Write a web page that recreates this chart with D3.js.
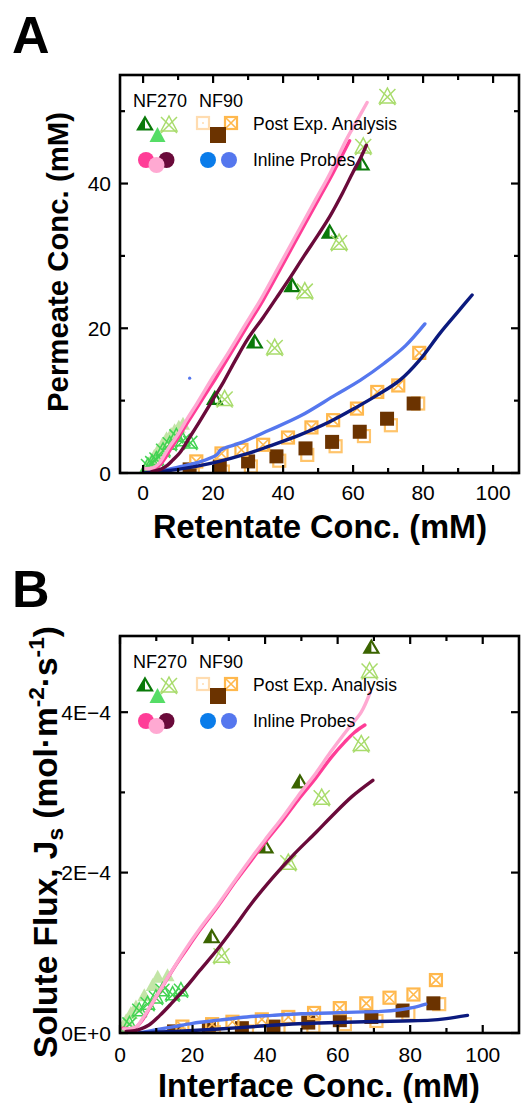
<!DOCTYPE html>
<html><head><meta charset="utf-8">
<script src="https://cdn.jsdelivr.net/npm/d3@7"></script>
<style>body{margin:0;background:#fff}svg{display:block;font-family:"Liberation Sans",Arial,sans-serif}</style>
</head><body><svg id="c" width="521" height="1103"></svg>
<script>
// ---------- shared ticks ----------
const xTicks=[0,20,40,60,80,100];
const xMinor=[10,30,50,70,90,110];
const yTicksA=[0,20,40], yMinorA=[10,30,50];
const yTicksB=[0,2e-4,4e-4], yLabelsB=["0E+0","2E\u22124","4E\u22124"], yMinorB=[1e-4,3e-4];

// ---------- Panel A: Permeate vs Retentate (mM) ----------
const aPink=[[1,0.6],[3.5,0.7],[5,1.2],[6.5,2.2],[8,3.4],[10,4.9],[13,7.2],[16,9.5],[18.5,11.4],[21,13.3],[25,16.5],[30,20.5],[34.3,23.9],[40,28.9],[45,33.3],[50,37.7],[54.2,41.4],[59,45.9]];
const aLightPink=[[0.5,0.6],[3,0.75],[4.5,1.3],[6,2.4],[7.5,3.6],[9.5,5],[12.5,7.4],[15.5,9.7],[20,13.3],[24.2,16.5],[29.2,20.5],[33.5,23.9],[39.2,28.9],[44.2,33.3],[49.2,37.7],[53.4,41.4],[58,46],[61,48.6],[64,51.2]];
const aMaroon=[[2.5,0.2],[5,0.5],[7,1.1],[8.5,1.8],[10.5,2.8],[13,4.7],[16,7],[20,10.2],[23,12.6],[26.5,15.7],[30,18.6],[34.3,21.5],[38.1,24.2],[42,27],[46,30],[50,32.9],[53.4,35.5],[57,38.7],[60,41.6],[62,43.4],[63.8,45.3]];
const aBlue=[[0,0],[5,0.3],[10,0.8],[16,1.5],[21,2.5],[22,3.1],[23,3.4],[28,4.2],[36,5.9],[45,7.9],[55,10.8],[62,12.8],[69,15.2],[75,17.6],[80.5,20.6]];
const aNavy=[[0,0],[10,0.5],[20,1.4],[30,2.7],[36,3.7],[45,5.3],[53,7],[61,9.1],[67,10.8],[73.3,12.8],[79,15.6],[84.8,19.3],[90,22.3],[94,24.6]];
const aStrayDot=[[13.3,13.1]];
const aHalfTri=[[20.5,10.3],[31.9,18.1],[42.6,25.9],[53.3,33.3],[62.4,42.7]];
const aCrossTri=[[23.3,10.3],[37.6,17.4],[46.2,25.2],[56,31.9],[62.9,45.2],[69.8,52.1]];
const aPaleTri=[[0.5,0.6],[1.5,1.2],[2.4,1.8],[3.2,2.4],[4.3,3.2],[5.5,4],[6.7,4.8],[8,5.4],[9,5.9],[10.2,6.4],[11.4,6.8]];
const aGreenCross=[[1.4,1.1],[2.6,1.5],[3.8,2],[5.7,3.2],[7.6,4.1],[9.5,5.2],[11.4,4.6],[13.5,4.3]];
const aBrownSq=[[13.3,0.5],[21.9,0.9],[30,1.6],[38.1,2.3],[46.4,3.4],[54,4.3],[61.9,5.7],[69.7,7.5],[77.3,9.6]];
const aOpenSq=[[14.2,-0.2],[22.8,0.2],[30.8,0.9],[38.9,1.7],[46.9,2.5],[55,3.7],[63.1,5.1],[70.8,6.6],[78.6,9.6]];
const aCrossSq=[[15.2,1.6],[22.4,2.7],[28.1,3.2],[34.3,3.9],[41.4,4.9],[48.1,6.3],[54.3,7.3],[61.1,8.9],[66.9,11.2],[72.9,12.1],[78.9,16.6]];

// ---------- Panel B: Solute flux vs Interface (mM) ----------
const bPink=[[0.8,0.06e-4],[4,0.06e-4],[6,0.15e-4],[9,0.38e-4],[12,0.6e-4],[15,0.82e-4],[18,1.02e-4],[22,1.28e-4],[27,1.58e-4],[32,1.9e-4],[36,2.14e-4],[40,2.38e-4],[45,2.66e-4],[49,2.9e-4],[54,3.18e-4],[58.3,3.44e-4],[62,3.63e-4],[64.7,3.75e-4],[67.5,3.84e-4]];
const bLightPink=[[1,0.05e-4],[4.5,0.08e-4],[6.5,0.2e-4],[9.5,0.42e-4],[13,0.68e-4],[18,1.04e-4],[22,1.3e-4],[27,1.6e-4],[32,1.92e-4],[36,2.17e-4],[40,2.41e-4],[45,2.7e-4],[49,2.95e-4],[54,3.24e-4],[58,3.5e-4],[63,3.8e-4],[66.5,4.0e-4],[69,4.25e-4]];
const bMaroon=[[1.7,0.02e-4],[5,0.04e-4],[8,0.1e-4],[11,0.22e-4],[14,0.36e-4],[18,0.56e-4],[22,0.78e-4],[27,1.05e-4],[32,1.35e-4],[36,1.6e-4],[42,1.93e-4],[48,2.23e-4],[54,2.5e-4],[58.3,2.7e-4],[64,2.95e-4],[69.7,3.15e-4]];
const bBlue=[[5,0],[10,0.04e-4],[15,0.08e-4],[20,0.12e-4],[27.3,0.16e-4],[35,0.2e-4],[42,0.22e-4],[50,0.24e-4],[58,0.25e-4],[65,0.26e-4],[72,0.27e-4],[77,0.29e-4],[81,0.32e-4],[84.3,0.36e-4]];
const bNavy=[[5,0],[15,0.02e-4],[27.3,0.05e-4],[40,0.09e-4],[49.2,0.115e-4],[55,0.125e-4],[67.5,0.14e-4],[78,0.15e-4],[85.7,0.16e-4],[90,0.18e-4],[95.8,0.22e-4]];
const bHalfTri=[[25.3,1.2e-4],[40.1,2.32e-4],[49.6,3.13e-4],[69.3,4.81e-4]];
const bCrossTri=[[28,0.97e-4],[46.4,2.13e-4],[55.6,2.94e-4],[66.5,3.61e-4],[68.8,4.52e-4]];
const bPaleTri=[[0.8,0.08e-4],[1.7,0.16e-4],[3,0.25e-4],[4.4,0.33e-4],[6.7,0.47e-4],[9,0.6e-4],[10.4,0.7e-4],[13.1,0.72e-4]];
const bGreenCross=[[2.6,0.12e-4],[5.3,0.29e-4],[7.6,0.37e-4],[9.9,0.45e-4],[11.7,0.54e-4],[14.5,0.49e-4],[16.8,0.54e-4]];
const bBrownSq=[[14.9,0.02e-4],[24.5,0.06e-4],[33.6,0.06e-4],[42.3,0.08e-4],[51.9,0.13e-4],[60.6,0.16e-4],[69.3,0.2e-4],[77.9,0.28e-4],[86.4,0.37e-4]];
const bOpenSq=[[16.3,-0.02e-4],[25.9,0.01e-4],[35,0.02e-4],[43.7,0.03e-4],[53.3,0.08e-4],[62,0.11e-4],[70.7,0.15e-4],[79.5,0.24e-4],[88,0.36e-4]];
const bCrossSq=[[17.2,0.08e-4],[25.4,0.11e-4],[31,0.14e-4],[39.1,0.17e-4],[46.4,0.2e-4],[53.5,0.25e-4],[60.6,0.31e-4],[67.9,0.37e-4],[74.3,0.44e-4],[80.9,0.48e-4],[87.1,0.66e-4]];

// ---------- colours ----------
const C={pink:"#ff3d97",lightPink:"#ffa9d2",maroon:"#6a0a3a",blue:"#5577ee",navy:"#0b1a7e",blueL:"#0a7cea",
  dkGreen:"#0a7a0a",dkOlive:"#3b6400",paleCross:"#a9dc6c",green:"#55dd66",paleTri:"#c2e5a6",greenCross:"#42d352",
  brown:"#6b3300",orange:"#ffb84d",orangeOpen:"#ffc46b",orangePale:"#ffdcb0"};

const svg=d3.select("#c");

function marker(g,type,x,y,opt={}){
  const s=opt.s||7;
  if(type==="halfTri"){
    const col=opt.color;
    g.append("path").attr("d",`M${x},${y-s+0.5}L${x-s},${y+s-1.5}L${x},${y+s-1.5}Z`).attr("fill",col);
    g.append("path").attr("d",`M${x},${y-s+0.5}L${x+s},${y+s-1.5}L${x-s},${y+s-1.5}Z`).attr("fill","none").attr("stroke",col).attr("stroke-width",2.2);
  } else if(type==="crossTri"){
    const col=opt.color;
    g.append("path").attr("d",`M${x},${y-s}L${x+s},${y+s-1}L${x-s},${y+s-1}Z`).attr("fill","none").attr("stroke",col).attr("stroke-width",1.5);
    g.append("path").attr("d",`M${x-s},${y-s+1}L${x+s},${y+s+1}M${x+s},${y-s+1}L${x-s},${y+s+1}`).attr("stroke",col).attr("stroke-width",1.5);
  } else if(type==="fillTri"){
    g.append("path").attr("d",`M${x},${y-s}L${x+s},${y+s-1}L${x-s},${y+s-1}Z`).attr("fill",opt.color);
  } else if(type==="sq"){
    g.append("rect").attr("x",x-s).attr("y",y-s).attr("width",2*s).attr("height",2*s).attr("fill",opt.color);
  } else if(type==="openSq"){
    g.append("rect").attr("x",x-s+1).attr("y",y-s+1).attr("width",2*s-2).attr("height",2*s-2).attr("fill","none").attr("stroke",opt.color).attr("stroke-width",2.2);
    if(opt.dot) g.append("circle").attr("cx",x).attr("cy",y).attr("r",1).attr("fill",opt.color);
  } else if(type==="crossSq"){
    g.append("rect").attr("x",x-s+1).attr("y",y-s+1).attr("width",2*s-2).attr("height",2*s-2).attr("fill","none").attr("stroke",opt.color).attr("stroke-width",2.2);
    g.append("path").attr("d",`M${x-s+2},${y-s+2}L${x+s-2},${y+s-2}M${x+s-2},${y-s+2}L${x-s+2},${y+s-2}`).attr("stroke",opt.color).attr("stroke-width",1.6);
  }
}

function fitTitle(g,text,target){
  const len=text.node().getComputedTextLength();
  g.attr("transform",g.attr("transform")+` scale(${target/len})`);
}

function panel(cfg){
  const L=120,R=519,T=cfg.top,B=cfg.bottom;
  const x=d3.scaleLinear().domain(cfg.xDomain).range([L,R]);
  const y=d3.scaleLinear().domain(cfg.yDomain).range([B,T]);
  const id="clip"+cfg.name;
  svg.append("clipPath").attr("id",id).append("rect").attr("x",L).attr("y",T).attr("width",R-L).attr("height",B-T);
  const plot=svg.append("g").attr("clip-path",`url(#${id})`);

  const pts=(arr,type,opt)=>arr.forEach(d=>marker(plot,type,x(d[0]),y(d[1]),opt));
  pts(cfg.paleTri,"fillTri",{color:C.paleTri,s:7});
  pts(cfg.greenCross,"crossTri",{color:C.greenCross,s:7});
  pts(cfg.openSq,"openSq",{color:C.orangeOpen,s:7});
  pts(cfg.brownSq,"sq",{color:C.brown,s:7});
  pts(cfg.crossSq,"crossSq",{color:C.orange,s:7});
  pts(cfg.halfTri,"halfTri",{color:cfg.halfCol,s:7});
  pts(cfg.crossTri,"crossTri",{color:C.paleCross,s:8});
  const line=d3.line().x(d=>x(d[0])).y(d=>y(d[1])).curve(d3.curveCatmullRom);
  [[cfg.blue,C.blue],[cfg.navy,C.navy],[cfg.pink,C.pink],[cfg.lightPink,C.lightPink],[cfg.maroon,C.maroon]].forEach(([d,c])=>{
    plot.append("path").datum(d).attr("d",line).attr("fill","none").attr("stroke",c).attr("stroke-width",3.4).attr("stroke-linecap","round");
  });
  (cfg.stray||[]).forEach(d=>plot.append("circle").attr("cx",x(d[0])).attr("cy",y(d[1])).attr("r",1.6).attr("fill",C.blue));

  const ax=svg.append("g");
  ax.append("rect").attr("x",L).attr("y",T).attr("width",R-L).attr("height",B-T).attr("fill","none").attr("stroke","#000").attr("stroke-width",2.6);
  const tk=(x1,y1,x2,y2)=>ax.append("line").attr("x1",x1).attr("y1",y1).attr("x2",x2).attr("y2",y2).attr("stroke","#000").attr("stroke-width",2.2);
  xTicks.forEach(v=>{const p=x(v);tk(p,B,p,B-8);tk(p,T,p,T+8);
    ax.append("text").attr("x",p).attr("y",cfg.xLabY).attr("text-anchor","middle").attr("font-size",21).text(v);});
  xMinor.filter(v=>x(v)<R-2).forEach(v=>{const p=x(v);tk(p,B,p,B-5);tk(p,T,p,T+5);});
  cfg.yTicks.forEach((v,i)=>{const p=y(v);tk(L,p,L+8,p);tk(R,p,R-8,p);
    ax.append("text").attr("x",111).attr("y",p+7.5).attr("text-anchor","end").attr("font-size",21).text(cfg.yLabels[i]);});
  cfg.yMinor.forEach(v=>{const p=y(v);tk(L,p,L+5,p);tk(R,p,R-5,p);});

  svg.append("text").attr("x",12).attr("y",cfg.letterY).attr("font-size",52).attr("font-weight","bold").text(cfg.name);
  const xg=svg.append("g").attr("transform",`translate(${cfg.xTitleX},${cfg.xTitleY})`);
  const xt=xg.append("text").attr("text-anchor","middle").attr("font-size",28).attr("font-weight","bold").text(cfg.xTitle);
  fitTitle(xg,xt,cfg.xTitleLen);
  const yg=svg.append("g").attr("transform",`translate(${cfg.yTitleX},${cfg.yTitleC}) rotate(-90)`);
  const yt=yg.append("text").attr("text-anchor","middle").attr("font-size",28).attr("font-weight","bold");
  cfg.yTitle(yt);
  fitTitle(yg,yt,cfg.yTitleLen);

  const lg=svg.append("g");
  const t0=T;
  lg.append("text").attr("x",133).attr("y",t0+32).attr("font-size",18).text("NF270");
  lg.append("text").attr("x",199).attr("y",t0+32).attr("font-size",18).text("NF90");
  marker(lg,"halfTri",145,t0+49,{color:C.dkGreen,s:7});
  marker(lg,"crossTri",169,t0+49,{color:C.paleCross,s:8});
  marker(lg,"fillTri",157.5,t0+60,{color:C.green,s:8});
  marker(lg,"openSq",203,t0+48,{color:C.orangePale,s:7,dot:true});
  marker(lg,"crossSq",231,t0+48,{color:C.orange,s:7});
  marker(lg,"sq",218,t0+60,{color:C.brown,s:8});
  lg.append("circle").attr("cx",146).attr("cy",t0+85).attr("r",8).attr("fill",C.pink);
  lg.append("circle").attr("cx",166.5).attr("cy",t0+85).attr("r",8).attr("fill",C.maroon);
  lg.append("circle").attr("cx",156.5).attr("cy",t0+90).attr("r",8).attr("fill",C.lightPink);
  lg.append("circle").attr("cx",208).attr("cy",t0+85).attr("r",8).attr("fill",C.blueL);
  lg.append("circle").attr("cx",229).attr("cy",t0+85).attr("r",8).attr("fill",C.blue);
  lg.append("text").attr("x",253).attr("y",t0+55).attr("font-size",17.5).text("Post Exp. Analysis");
  lg.append("text").attr("x",253).attr("y",t0+91).attr("font-size",17.5).text("Inline Probes");
}

panel({name:"A",top:75,bottom:473,xDomain:[-6.6,107.4],yDomain:[0,55],xLabY:500,letterY:53,
  xTitle:"Retentate Conc. (mM)",xTitleX:320,xTitleY:538,xTitleLen:334,
  yTitleX:68,yTitleC:262,yTitleLen:300,
  yTicks:yTicksA,yLabels:yTicksA.map(String),yMinor:yMinorA,halfCol:C.dkGreen,
  yTitle:t=>t.text("Permeate Conc. (mM)"),
  pink:aPink,lightPink:aLightPink,maroon:aMaroon,blue:aBlue,navy:aNavy,stray:aStrayDot,
  halfTri:aHalfTri,crossTri:aCrossTri,paleTri:aPaleTri,greenCross:aGreenCross,brownSq:aBrownSq,openSq:aOpenSq,crossSq:aCrossSq});

panel({name:"B",top:636,bottom:1033,xDomain:[0,110],yDomain:[0,4.95e-4],xLabY:1062,letterY:607,
  xTitle:"Interface Conc. (mM)",xTitleX:319,xTitleY:1097,xTitleLen:322,
  yTitleX:57,yTitleC:842,yTitleLen:432,
  yTicks:yTicksB,yLabels:yLabelsB,yMinor:yMinorB,halfCol:C.dkOlive,
  yTitle:t=>{t.append("tspan").text("Solute Flux, J");
    t.append("tspan").attr("font-size",19).attr("dy",5).text("s");
    t.append("tspan").attr("dy",-5).text(" (mol\u00b7m");
    t.append("tspan").attr("font-size",19).attr("dy",-11).text("-2");
    t.append("tspan").attr("dy",11).text("\u00b7s");
    t.append("tspan").attr("font-size",19).attr("dy",-11).text("-1");
    t.append("tspan").attr("dy",11).text(")");},
  pink:bPink,lightPink:bLightPink,maroon:bMaroon,blue:bBlue,navy:bNavy,
  halfTri:bHalfTri,crossTri:bCrossTri,paleTri:bPaleTri,greenCross:bGreenCross,brownSq:bBrownSq,openSq:bOpenSq,crossSq:bCrossSq});
</script></body></html>
